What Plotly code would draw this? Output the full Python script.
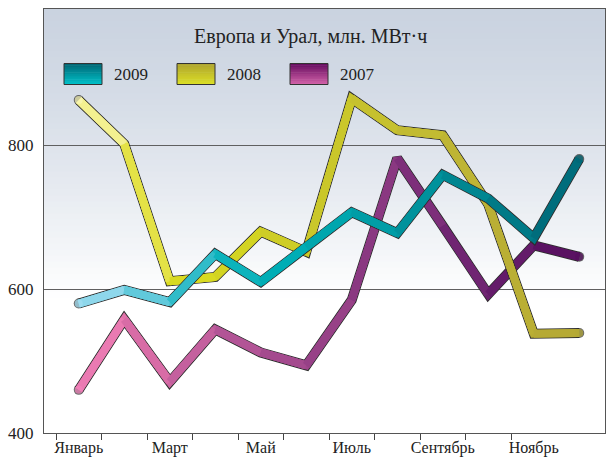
import plotly.graph_objects as go

# ---------------- data ----------------
months = ["Январь", "Февраль", "Март", "Апрель", "Май", "Июнь",
          "Июль", "Август", "Сентябрь", "Октябрь", "Ноябрь", "Декабрь"]
tick_labels = ["Январь", "Март", "Май", "Июль", "Сентябрь", "Ноябрь"]
y_ticks = [400, 600, 800]

y2009 = [580, 599, 582, 649, 610, 659, 707, 678, 759, 726, 671, 781]
y2008 = [863, 802, 611, 617, 680, 652, 865, 821, 814, 718, 538, 539]
y2007 = [460, 558, 471, 544, 512, 494, 585, 782, 688, 593, 661, 645]

series_names = ["2009", "2008", "2007"]
title_text = "Европа и Урал, млн. МВт·ч"

# ---------------- styles ----------------
colors2009 = ["#a3def2", "#7ad0e4", "#48c2d2", "#18b6c0", "#00b0b8", "#00aab2",
              "#00a2aa", "#0098a2", "#008c96", "#00808c", "#007482", "#006676"]
colors2008 = ["#faf7b6", "#ece96a", "#dcdc22", "#d6d820", "#d0d024", "#ccca28",
              "#c8c42c", "#c4be30", "#c0b834", "#bcb234", "#b8ac34", "#b4a834"]
colors2007 = ["#f282ba", "#e272aa", "#ce66a2", "#ba5a9a", "#aa4e92", "#9e468a",
              "#903c84", "#84347e", "#762a76", "#6a206e", "#5e1666", "#560e5e"]
legend_grad = {
    "2009": ("#006472", "#00c2ca"),
    "2008": ("#aea42e", "#dcdf26"),
    "2007": ("#640a5e", "#d464aa"),
}
outline = "#2e2e2e"
FONT = "Liberation Serif"
LW_OUT, LW_IN = 10, 8

x_idx = list(range(len(months)))


def hex2rgb(h):
    h = h.lstrip("#")
    return tuple(int(h[i:i + 2], 16) for i in (0, 2, 4))


def mix(a, b, t):
    ra, rb = hex2rgb(a), hex2rgb(b)
    return "rgb(%d,%d,%d)" % tuple(round(ra[k] + (rb[k] - ra[k]) * t) for k in range(3))


fig = go.Figure()

draw_order = [("2007", y2007, colors2007), ("2008", y2008, colors2008), ("2009", y2009, colors2009)]
for name, ys, cols in draw_order:
    n = len(ys)
    end_sizes = [LW_OUT if i in (0, n - 1) else 0 for i in range(n)]
    # dark outline (mitred joins, round ends)
    fig.add_trace(go.Scatter(
        x=x_idx, y=ys, mode="lines+markers",
        line=dict(color=outline, width=LW_OUT),
        marker=dict(color=outline, size=end_sizes, line=dict(width=0)),
        showlegend=False, hoverinfo="skip"))
    # joint pieces: give each corner its own mitred fill
    for i in range(1, n - 1):
        fig.add_trace(go.Scatter(
            x=x_idx[i - 1:i + 2], y=ys[i - 1:i + 2], mode="lines",
            line=dict(color=cols[i], width=LW_IN),
            showlegend=False, hoverinfo="skip"))
    # coloured segments
    for i in range(n - 1):
        fig.add_trace(go.Scatter(
            x=[x_idx[i], x_idx[i + 1]], y=[ys[i], ys[i + 1]], mode="lines",
            line=dict(color=mix(cols[i], cols[i + 1], 0.5), width=LW_IN),
            showlegend=False, hoverinfo="skip"))
    # round end caps / hover
    fig.add_trace(go.Scatter(
        x=x_idx, y=ys, mode="markers", name=name,
        marker=dict(color=cols, size=[LW_IN if i in (0, n - 1) else 0 for i in range(n)],
                    line=dict(width=0)),
        customdata=months,
        hovertemplate="%{customdata}: %{y}<extra>" + name + "</extra>",
        showlegend=False))

# ---------------- background gradient ----------------
shapes = []
y_top, y_fade = 989.6, 588
top_col = "#cad3e0"
N = 48
step = (y_top - y_fade) / N
for k in range(N):
    y0 = y_top - step * k
    y1 = y_top - step * (k + 1) - (step * 0.6 if k < N - 1 else 0)
    t = ((k + 0.5) / N) ** 1.3
    shapes.append(dict(type="rect", xref="paper", yref="y", x0=0, x1=1, y0=y1, y1=y0,
                       fillcolor=mix(top_col, "#ffffff", t), line=dict(width=0),
                       layer="below"))

# ---------------- manual legend ----------------
W, H = 561.0, 424.0
def px(x):
    return (x - 44) / W
def py(y):
    return (433 - y) / H

annotations = []
legend_x = [64, 177, 290]
box_w, box_top, box_bot = 38, 63.5, 84.5
for name, lx in zip(series_names, legend_x):
    c_top, c_bot = legend_grad[name]
    nb = 12
    bh = (box_bot - box_top) / nb
    for k in range(nb):
        y0 = box_top + bh * k
        y1 = min(box_bot, box_top + bh * (k + 1) + 0.6)
        shapes.append(dict(type="rect", xref="paper", yref="paper",
                           x0=px(lx), x1=px(lx + box_w), y0=py(y1), y1=py(y0),
                           fillcolor=mix(c_top, c_bot, (k + 0.5) / nb),
                           line=dict(width=0), layer="above"))
    shapes.append(dict(type="rect", xref="paper", yref="paper",
                       x0=px(lx), x1=px(lx + box_w), y0=py(box_bot), y1=py(box_top),
                       line=dict(color="#333333", width=1), layer="above"))
    annotations.append(dict(text=name, xref="paper", yref="paper",
                            x=px(lx + box_w + 10), y=py(74), xanchor="left", yanchor="middle",
                            showarrow=False, font=dict(family=FONT, size=17, color="#222222")))

annotations.append(dict(text=title_text, xref="paper", yref="paper",
                        x=px(310), y=py(37), xanchor="center", yanchor="middle",
                        showarrow=False, font=dict(family=FONT, size=20, color="#222222")))

fig.update_layout(
    width=606, height=460,
    margin=dict(l=44, r=1, t=9, b=27),
    paper_bgcolor="#ffffff", plot_bgcolor="#ffffff",
    shapes=shapes, annotations=annotations,
    showlegend=False,
    font=dict(family=FONT, size=16, color="#222222"),
    xaxis=dict(
        range=[-0.764, 11.566], tickmode="array", tickvals=x_idx[::2], ticktext=tick_labels,
        ticks="", showgrid=False, zeroline=False,
        showline=True, linecolor="#555555", linewidth=1.2, mirror=True,
        tickfont=dict(family=FONT, size=16, color="#222222"),
        automargin=False,
        minor=dict(tickmode="array", tickvals=[i - 0.5 for i in x_idx[:-1]],
                   ticks="outside", ticklen=6, tickcolor="#444444", tickwidth=1, showgrid=False),
    ),
    yaxis=dict(
        range=[400, 989.6], tickmode="array", tickvals=y_ticks,
        ticks="", showgrid=True, gridcolor="#606060", gridwidth=1.2, zeroline=False,
        showline=True, linecolor="#555555", linewidth=1.2, mirror=True,
        ticklabelstandoff=6, automargin=False,
        tickfont=dict(family=FONT, size=17, color="#222222"),
    ),
)

fig.write_html("out.html", config={"displayModeBar": False},
               post_script="document.body.style.margin='0';document.body.style.padding='0';")
